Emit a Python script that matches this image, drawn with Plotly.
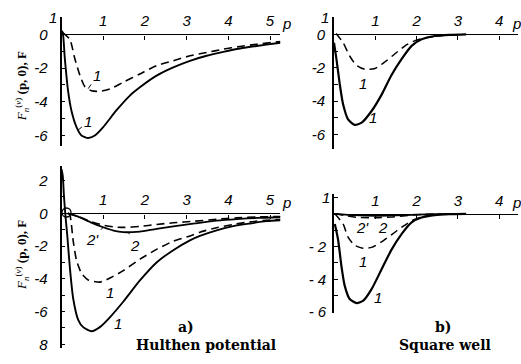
import plotly.graph_objects as go

W, H = 521, 364

# ---------------- data ----------------
# a) Hulthen potential, upper panel
tl_solid1_x = [0, 0.03, 0.08, 0.16, 0.24, 0.36, 0.48, 0.64, 0.8, 1.0, 1.32, 1.64, 1.88, 2.28, 2.68, 3.08, 3.48, 3.88, 4.28, 4.68, 5.16, 5.25]
tl_solid1_y = [0.2, 0.1, -1.45, -3.4, -4.55, -5.5, -6.0, -6.15, -6.0, -5.5, -4.5, -3.63, -3.14, -2.45, -1.96, -1.57, -1.27, -1.04, -0.84, -0.69, -0.53, -0.5]
tl_dash1_x = [0.03, 0.2, 0.32, 0.44, 0.56, 0.72, 0.92, 1.16, 1.48, 1.88, 2.28, 2.68, 3.08, 3.48, 3.88, 4.28, 4.68, 5.16, 5.25]
tl_dash1_y = [0.1, -0.3, -1.45, -2.42, -3.1, -3.35, -3.38, -3.24, -2.84, -2.35, -1.86, -1.57, -1.27, -1.08, -0.88, -0.72, -0.59, -0.45, -0.43]

# a) Hulthen potential, lower panel
bl_solid1_x = [0, 0.03, 0.06, 0.1, 0.14, 0.2, 0.28, 0.4, 0.52, 0.72, 0.92, 1.16, 1.48, 1.88, 2.28, 2.68, 3.08, 3.32, 3.72, 4.12, 4.52, 4.92, 5.25]
bl_solid1_y = [2.7, 2.3, 1.0, -0.3, -1.4, -3.3, -5.2, -6.5, -6.95, -7.2, -6.95, -6.35, -5.4, -4.1, -3.0, -2.25, -1.65, -1.38, -1.04, -0.78, -0.62, -0.48, -0.42]
bl_dash1_x = [0.15, 0.2, 0.28, 0.36, 0.48, 0.64, 0.92, 1.04, 1.24, 1.48, 1.88, 2.28, 2.68, 3.08, 3.32, 3.72, 4.12, 4.52, 4.92, 5.25]
bl_dash1_y = [0, -0.1, -1.68, -2.87, -3.67, -4.07, -4.2, -4.1, -3.85, -3.5, -2.8, -2.2, -1.7, -1.38, -1.15, -0.88, -0.68, -0.52, -0.42, -0.38]
bl_solid2_x = [0.15, 0.4, 0.7, 1.0, 1.25, 1.48, 1.7, 1.88, 2.28, 2.68, 3.2, 3.72, 4.2, 4.7, 5.25]
bl_solid2_y = [0, -0.2, -0.55, -0.85, -1.05, -1.15, -1.15, -1.12, -0.95, -0.8, -0.62, -0.45, -0.35, -0.28, -0.24]
bl_dash2_x = [0.15, 0.4, 0.7, 1.0, 1.25, 1.5, 1.88, 2.28, 2.68, 3.2, 3.72, 4.2, 4.7, 5.25]
bl_dash2_y = [0, -0.2, -0.5, -0.72, -0.83, -0.86, -0.8, -0.68, -0.58, -0.48, -0.36, -0.28, -0.22, -0.2]
bl_circle_x = [0.12]
bl_circle_y = [0.05]

# b) Square well, upper panel
tr_solid1_x = [0, 0.06, 0.14, 0.22, 0.34, 0.5, 0.67, 0.91, 1.15, 1.39, 1.64, 1.88, 2.12, 2.44, 2.8, 3.2]
tr_solid1_y = [-0.5, -1.5, -3.0, -4.2, -5.1, -5.43, -5.3, -4.6, -3.63, -2.45, -1.47, -0.69, -0.3, -0.1, -0.03, 0]
tr_dash1_x = [0.05, 0.22, 0.38, 0.54, 0.75, 0.99, 1.23, 1.47, 1.72, 1.96, 2.2, 2.6, 3.0]
tr_dash1_y = [0.05, -0.5, -1.3, -1.85, -2.1, -2.05, -1.66, -1.18, -0.69, -0.38, -0.22, -0.08, -0.02]

# b) Square well, lower panel
br_solid1_x = [0.02, 0.1, 0.18, 0.26, 0.38, 0.55, 0.71, 0.91, 1.15, 1.39, 1.64, 1.88, 2.12, 2.44, 2.8, 3.2]
br_solid1_y = [-0.62, -1.6, -3.2, -4.4, -5.2, -5.45, -5.3, -4.6, -3.4, -2.2, -1.22, -0.52, -0.23, -0.08, -0.02, 0]
br_dash1_x = [0.02, 0.22, 0.34, 0.5, 0.7, 0.91, 1.15, 1.39, 1.64, 1.88, 2.1, 2.5]
br_dash1_y = [0, -0.62, -1.42, -1.92, -2.1, -2.05, -1.72, -1.28, -0.82, -0.42, -0.2, -0.05]
br_dash2_x = [0.03, 0.3, 0.58, 0.99, 1.39, 1.8, 2.2, 2.6]
br_dash2_y = [0, -0.12, -0.22, -0.24, -0.2, -0.1, -0.03, 0]
br_solid2_x = [0.03, 0.5, 1.0, 1.5, 2.0, 2.5, 3.0]
br_solid2_y = [0, -0.08, -0.12, -0.1, -0.05, -0.02, 0]

# tick labels
left_x_ticks = [1, 2, 3, 4, 5]
right_x_ticks = [1, 2, 3, 4]
tl_y_vals = [0, -2, -4, -6]
tl_y_text = ["0", "-2", "-4", "-6"]
bl_y_vals = [2, 0, -2, -4, -6, -8]
bl_y_text = ["2", "0", "-2", "-4", "-6", "8"]
tr_y_vals = [0, -2, -4, -6]
tr_y_text = ["0", "-2", "-4", "-6"]
br_y_vals = [-2, -4, -6]
br_y_text = ["- 2", "- 4", "- 6"]
top_y_label = "1"   # topmost y tick label (at y = 1) of three panels
y_minor_top = list(range(1, -7, -1))
y_minor_bl = list(range(2, -9, -1))

# ---------------- figure ----------------
def px(x):
    return x / W

def py(y):
    return 1 - y / H

fig = go.Figure()
DASH = "8px,5px"

def add(xs, ys, xa, ya, dash=None, width=1.9):
    fig.add_trace(go.Scatter(
        x=xs, y=ys, mode="lines", xaxis=xa, yaxis=ya,
        line=dict(color="black", width=width, dash=dash, shape="spline", smoothing=0.6),
        showlegend=False, hoverinfo="skip"))

add(tl_solid1_x, tl_solid1_y, "x", "y")
add(tl_dash1_x, tl_dash1_y, "x", "y", DASH, 1.6)
add(tr_solid1_x, tr_solid1_y, "x2", "y2", None, 2.2)
add(tr_dash1_x, tr_dash1_y, "x2", "y2", DASH, 1.5)
add(bl_solid1_x, bl_solid1_y, "x3", "y3")
add(bl_dash1_x, bl_dash1_y, "x3", "y3", DASH, 1.6)
add(bl_solid2_x, bl_solid2_y, "x3", "y3", None, 1.8)
add(bl_dash2_x, bl_dash2_y, "x3", "y3", DASH, 1.6)
add(br_solid1_x, br_solid1_y, "x4", "y4", None, 2.2)
add(br_dash1_x, br_dash1_y, "x4", "y4", DASH, 1.5)
add(br_dash2_x, br_dash2_y, "x4", "y4", DASH, 1.4)
add(br_solid2_x, br_solid2_y, "x4", "y4", None, 1.8)
fig.add_trace(go.Scatter(x=bl_circle_x, y=bl_circle_y, mode="markers", xaxis="x3", yaxis="y3",
                         marker=dict(symbol="circle-open", size=9, color="black", line=dict(width=1.3)),
                         showlegend=False, hoverinfo="skip"))

TICKFONT = dict(family="Liberation Sans Narrow, Liberation Sans, sans-serif", size=15, color="black", style="italic")

def xaxis(dom_px, rng, zero_px, ticks):
    return dict(domain=[px(dom_px[0]), px(dom_px[1])], range=rng, anchor="free", position=py(zero_px),
                side="top", ticks="inside", ticklen=4, tickwidth=1.2, tickcolor="black",
                tickvals=ticks, ticktext=[str(t) for t in ticks], tickfont=TICKFONT,
                showline=True, linecolor="black", linewidth=1.4, showgrid=False, zeroline=False,
                ticklabelstandoff=2)

def yaxis(dom_px, rng, anchor, vals, text, standoff, minor_vals):
    return dict(domain=[py(dom_px[1]), py(dom_px[0])], range=rng, anchor=anchor,
                ticks="inside", ticklen=4, tickwidth=1.2, tickcolor="black",
                tickvals=vals, ticktext=text, tickfont=TICKFONT,
                minor=dict(tickmode="array", tickvals=minor_vals, ticks="inside", ticklen=4,
                           tickwidth=1.2, tickcolor="black", showgrid=False),
                showline=True, linecolor="black", linewidth=1.6, showgrid=False, zeroline=False,
                ticklabelstandoff=standoff)

L0, L1 = 61.5, 61.5 + 5.25 * 41.7
R0, R1 = 334.0, 334.0 + 4.45 * 41.3

fig.update_layout(
    width=W, height=H, margin=dict(l=0, r=0, t=0, b=0),
    paper_bgcolor="white", plot_bgcolor="white",
    xaxis=xaxis((L0, L1), [0, 5.25], 35, left_x_ticks),
    yaxis=yaxis((35 - 1.05 * 17.2, 35 + 6.6 * 17.2), [-6.6, 1.05], "x", tl_y_vals, tl_y_text, 9, y_minor_top),
    xaxis2=xaxis((R0, R1), [0, 4.45], 35, right_x_ticks),
    yaxis2=yaxis((35 - 1.05 * 17, 35 + 6.9 * 17), [-6.9, 1.05], "x2", tr_y_vals, tr_y_text, 4, y_minor_top),
    xaxis3=xaxis((L0, L1), [0, 5.25], 217.5, left_x_ticks),
    yaxis3=yaxis((217.5 - 2.9 * 16.7, 217.5 + 8.2 * 16.7), [-8.2, 2.9], "x3", bl_y_vals, bl_y_text, 9, y_minor_bl),
    xaxis4=xaxis((R0, R1), [0, 4.45], 218, right_x_ticks),
    yaxis4=yaxis((218 - 1.2 * 16.7, 218 + 6.05 * 16.7), [-6.05, 1.2], "x4", br_y_vals, br_y_text, 3, y_minor_top),
)

ann = []
LBL = dict(family="Liberation Sans Narrow, Liberation Sans, sans-serif", size=15, color="black", style="italic")

def lab(text, x, y, xr, yr, ax=None, ay=None):
    d = dict(text=text, x=x, y=y, xref=xr, yref=yr, font=LBL, showarrow=False,
             xanchor="center", yanchor="middle")
    if ax is not None:
        d.update(showarrow=True, arrowhead=0, arrowwidth=1, arrowcolor="black", ax=ax, ay=ay,
                 standoff=0, startstandoff=1)
    ann.append(d)

# curve labels: with leader lines (point on curve, text offset)
lab("1", 0.64, -3.22, "x", "y", 9, -13)
lab("1", 0.40, -5.67, "x", "y", 10, -8)
lab("2'", 1.0, -0.85, "x3", "y3", -11, 12)
lab("2", 1.6, -1.15, "x3", "y3", 7, 13)
lab("1", 1.16, -4.85, "x3", "y3")
lab("1", 1.35, -6.74, "x3", "y3")
lab("1", 0.70, -2.94, "x2", "y2")
lab("1", 0.94, -5.0, "x2", "y2")
lab("2'", 0.70, -0.84, "x4", "y4")
lab("2", 1.19, -0.84, "x4", "y4")
lab("1", 0.70, -2.93, "x4", "y4")
lab("1", 1.07, -5.09, "x4", "y4")

# topmost y tick labels (value 1)
for (xx, yr) in [(53, "y"), (325, "y2"), (326, "y4")]:
    ann.append(dict(text=top_y_label, x=px(xx), y=1, xref="paper", yref=yr, showarrow=False,
                    xanchor="center", yanchor="middle", font=LBL))

def pann(text, xx, yy, font, angle=0):
    ann.append(dict(text=text, x=px(xx), y=py(yy), xref="paper", yref="paper", showarrow=False,
                    xanchor="center", yanchor="middle", textangle=angle, font=font))

# axis variable "p"
for (xx, yy) in [(286, 24), (516, 24), (286, 206), (516, 206)]:
    pann("p", xx, yy, LBL)

# y-axis titles
YT = "<i>F</i><sub><i>n</i></sub><sup>(<i>ν</i>)</sup> <b>(p, 0), F</b>"
TF = dict(family="Liberation Serif, serif", size=13, color="black")
pann(YT, 22, 88, TF, -90)
pann(YT, 22, 260, TF, -90)

SERIFB = dict(family="DejaVu Serif, Liberation Serif, serif", size=14, color="black")
pann("<b>a)</b>", 186, 333, SERIFB)
pann("<b>Hulthen potential</b>", 206, 352, SERIFB)
pann("<b>b)</b>", 443, 333, SERIFB)
pann("<b>Square well</b>", 445, 352, SERIFB)

fig.update_layout(annotations=ann)
fig.write_html("out.html")
